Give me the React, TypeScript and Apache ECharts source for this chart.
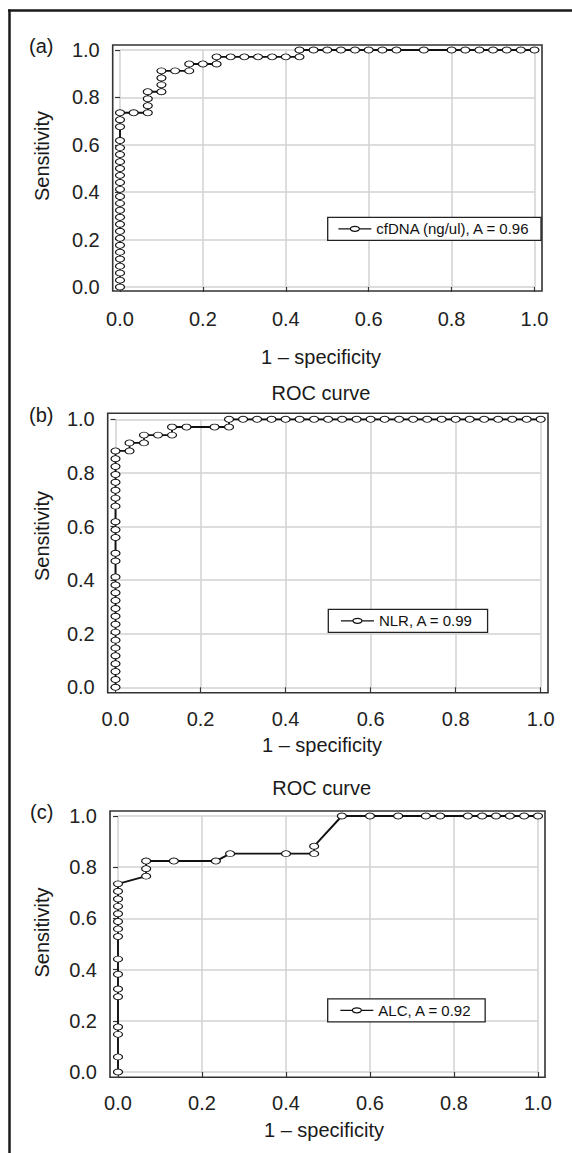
import React, { useEffect, useRef } from "react";
import * as echarts from "echarts";

// ---------- data ----------
const tickValues = [0, 0.2, 0.4, 0.6, 0.8, 1.0];
const xAxisTitle = "1 – specificity";
const yAxisTitle = "Sensitivity";
const panelTags = ["(a)", "(b)", "(c)"];
const panelTitles = ["", "ROC curve", "ROC curve"];
const seriesNames = ["cfDNA (ng/ul), A = 0.96", "NLR, A = 0.99", "ALC, A = 0.92"];

// (a) cfDNA
const cfdnaFpr = [
  0, 0, 0, 0, 0, 0, 0, 0, 0, 0, 0, 0, 0, 0, 0, 0, 0, 0, 0, 0, 0, 0,
  0, 0, 0, 0.033, 0.067, 0.067, 0.067, 0.067, 0.1, 0.1, 0.1, 0.1, 0.133, 0.167, 0.167, 0.2, 0.233, 0.233,
  0.267, 0.3, 0.333, 0.367, 0.4, 0.433, 0.433, 0.467, 0.5, 0.533, 0.567, 0.6, 0.633, 0.667, 0.733, 0.8,
  0.833, 0.867, 0.9, 0.933, 0.967, 1.0,
];
const cfdnaSens = [
  0, 0.029, 0.059, 0.088, 0.118, 0.147, 0.176, 0.206, 0.235, 0.265, 0.294, 0.324, 0.353, 0.382, 0.412, 0.441,
  0.471, 0.5, 0.529, 0.559, 0.588, 0.618,
  0.676, 0.706, 0.735, 0.735, 0.735, 0.765, 0.794, 0.824, 0.824, 0.853, 0.882, 0.912, 0.912, 0.912, 0.941, 0.941, 0.941, 0.971,
  0.971, 0.971, 0.971, 0.971, 0.971, 0.971, 1.0, 1.0, 1.0, 1.0, 1.0, 1.0, 1.0, 1.0, 1.0, 1.0,
  1.0, 1.0, 1.0, 1.0, 1.0, 1.0,
];

// (b) NLR
const nlrFpr = [
  0, 0, 0, 0, 0, 0, 0, 0, 0, 0, 0, 0, 0, 0, 0,
  0, 0, 0, 0, 0, 0, 0, 0, 0, 0, 0, 0, 0,
  0.033, 0.033, 0.067, 0.067, 0.1, 0.133, 0.133, 0.167, 0.233, 0.267, 0.267,
  0.3, 0.333, 0.367, 0.4, 0.433, 0.467, 0.5, 0.533, 0.567, 0.6, 0.633, 0.667, 0.7, 0.733, 0.767, 0.8,
  0.833, 0.867, 0.9, 0.933, 0.967, 1.0,
];
const nlrSens = [
  0, 0.029, 0.059, 0.088, 0.118, 0.147, 0.176, 0.206, 0.235, 0.265, 0.294, 0.324, 0.353, 0.382, 0.412,
  0.471, 0.5, 0.559, 0.588, 0.618, 0.676, 0.706, 0.735, 0.765, 0.794, 0.824, 0.853, 0.882,
  0.882, 0.912, 0.912, 0.941, 0.941, 0.941, 0.971, 0.971, 0.971, 0.971, 1.0,
  1.0, 1.0, 1.0, 1.0, 1.0, 1.0, 1.0, 1.0, 1.0, 1.0, 1.0, 1.0, 1.0, 1.0, 1.0, 1.0,
  1.0, 1.0, 1.0, 1.0, 1.0, 1.0,
];

// (c) ALC
const alcFpr = [
  0, 0, 0, 0, 0, 0, 0, 0, 0, 0, 0, 0, 0, 0, 0, 0,
  0.067, 0.067, 0.067, 0.133, 0.233, 0.267, 0.4, 0.467, 0.467,
  0.533, 0.6, 0.667, 0.733, 0.767, 0.833, 0.867, 0.9, 0.933, 0.967, 1.0,
];
const alcSens = [
  0, 0.059, 0.147, 0.176, 0.294, 0.324, 0.382, 0.441, 0.529, 0.559, 0.588, 0.618, 0.647, 0.676, 0.706, 0.735,
  0.765, 0.794, 0.824, 0.824, 0.824, 0.853, 0.853, 0.853, 0.882,
  1.0, 1.0, 1.0, 1.0, 1.0, 1.0, 1.0, 1.0, 1.0, 1.0, 1.0,
];

const curves = [
  { fpr: cfdnaFpr, sens: cfdnaSens },
  { fpr: nlrFpr, sens: nlrSens },
  { fpr: alcFpr, sens: alcSens },
];

// ---------- layout (pixels) ----------
const FONT = '"Liberation Sans", Arial, Helvetica, sans-serif';
const layouts = [
  {
    box: [112.7, 45, 542, 291], plot: [120, 50, 534.5, 287], tag: [29, 45.5], title: null,
    yName: [41.7, 156], xName: [321, 357], legend: [327.7, 217.3], legendPad: [4, 10, 4, 10], labelMargin: 18,
  },
  {
    box: [107.7, 413.3, 548, 692.7], plot: [115.5, 419.3, 540.7, 687.3], tag: [29, 415], title: [321, 393],
    yName: [41.7, 536], xName: [322, 745], legend: [328.3, 609.3], legendPad: [4, 14, 4, 12], labelMargin: 16,
  },
  {
    box: [110, 811, 545, 1077.3], plot: [118, 816, 538, 1072], tag: [30, 811.7], title: [321.7, 788],
    yName: [41.7, 932.5], xName: [324, 1130], legend: [327.7, 998.8], legendPad: [4, 13, 4, 12], labelMargin: 16,
  },
];

const LEGEND_ICON = "path://M0,3H12M21,3H33M12,3A4.5,2.5,0,1,1,21,3A4.5,2.5,0,1,1,12,3Z";

function textEl(text: string, x: number, y: number, size: number, align: string, rotation = 0) {
  return {
    type: "text",
    x,
    y,
    rotation,
    z: 10,
    style: {
      text,
      fontSize: size,
      fontFamily: FONT,
      fill: "#1a1a1a",
      align,
      textAlign: align,
      verticalAlign: "middle",
      textVerticalAlign: "middle",
    },
  };
}

export default function App() {
  const ref = useRef<HTMLDivElement>(null);

  useEffect(() => {
    if (!ref.current) return;
    const chart = echarts.init(ref.current, null, { renderer: "svg" });

    const grids: any[] = [];
    const xAxes: any[] = [];
    const yAxes: any[] = [];
    const series: any[] = [];
    const legends: any[] = [];
    const graphics: any[] = [];

    // outer frame
    graphics.push({
      type: "line", z: 10,
      shape: { x1: 8, y1: 10.5, x2: 572, y2: 10.5 },
      style: { stroke: "#1a1a1a", lineWidth: 2.5 },
    });
    graphics.push({
      type: "line", z: 10,
      shape: { x1: 9.5, y1: 9.5, x2: 9.5, y2: 1153 },
      style: { stroke: "#1a1a1a", lineWidth: 2.5 },
    });

    layouts.forEach((L, i) => {
      const [px0, py1, px1, py0] = L.plot;
      const [bx0, by0, bx1, by1] = L.box;
      grids.push({ left: px0, top: py1, width: px1 - px0, height: py0 - py1, containLabel: false });
      xAxes.push({
        type: "value", gridIndex: i, min: 0, max: 1, interval: 0.2,
        offset: by1 - py0,
        axisLine: { show: false },
        axisTick: { show: true, length: 5, lineStyle: { color: "#333", width: 1.2 } },
        axisLabel: {
          margin: L.labelMargin, fontSize: 20, fontFamily: FONT, color: "#222",
          formatter: (v: number) => v.toFixed(1),
        },
        splitLine: { show: true, lineStyle: { color: "#d2d2d2", width: 1.5 } },
      });
      yAxes.push({
        type: "value", gridIndex: i, min: 0, max: 1, interval: 0.2,
        offset: px0 - bx0,
        axisLine: { show: false },
        axisTick: { show: true, length: 5, lineStyle: { color: "#333", width: 1.2 } },
        axisLabel: {
          margin: 13, fontSize: 20, fontFamily: FONT, color: "#222",
          formatter: (v: number) => v.toFixed(1),
        },
        splitLine: { show: true, lineStyle: { color: "#d2d2d2", width: 1.5 } },
      });
      const c = curves[i];
      series.push({
        type: "line",
        name: seriesNames[i],
        xAxisIndex: i,
        yAxisIndex: i,
        data: c.fpr.map((x, k) => [x, c.sens[k]]),
        symbol: "circle",
        symbolSize: [9, 6],
        lineStyle: { color: "#111", width: 1.9 },
        itemStyle: { color: "#fff", borderColor: "#111", borderWidth: 1 },
        z: 3,
        silent: true,
      });
      legends.push({
        data: [seriesNames[i]],
        left: L.legend[0],
        top: L.legend[1],
        orient: "horizontal",
        padding: L.legendPad,
        backgroundColor: "#fff",
        borderColor: "#222",
        borderWidth: 1.3,
        borderRadius: 0,
        icon: LEGEND_ICON,
        itemWidth: 33,
        itemHeight: 5,
        itemStyle: { color: "#fff", borderColor: "#111", borderWidth: 1.3 },
        textStyle: { fontSize: 15, fontFamily: FONT, color: "#111" },
        selectedMode: false,
        z: 5,
      });
      // plot box
      graphics.push({
        type: "rect", z: 4,
        shape: { x: bx0, y: by0, width: bx1 - bx0, height: by1 - by0 },
        style: { fill: "none", stroke: "#333", lineWidth: 1.6 },
      });
      graphics.push(textEl(panelTags[i], L.tag[0], L.tag[1], 20, "left"));
      if (L.title) graphics.push(textEl(panelTitles[i], L.title[0], L.title[1], 20, "center"));
      graphics.push(textEl(yAxisTitle, L.yName[0], L.yName[1], 20, "center", Math.PI / 2));
      graphics.push(textEl(xAxisTitle, L.xName[0], L.xName[1], 20, "center"));
    });

    chart.setOption({
      animation: false,
      backgroundColor: "#fff",
      grid: grids,
      xAxis: xAxes,
      yAxis: yAxes,
      series,
      legend: legends,
      graphic: { elements: graphics },
    });

    return () => chart.dispose();
  }, []);

  return (
    <div
      ref={ref}
      style={{ position: "absolute", left: 0, top: 0, width: 572, height: 1153, background: "#fff" }}
    />
  );
}
